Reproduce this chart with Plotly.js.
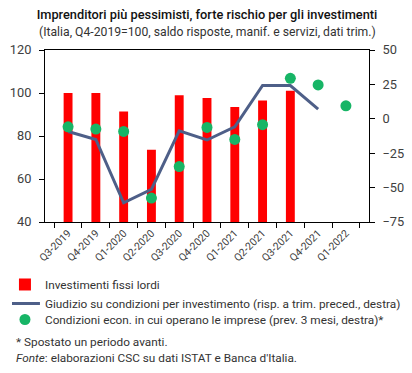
<!DOCTYPE html>
<html>
<head>
<meta charset="utf-8">
<script src="https://cdn.plot.ly/plotly-3.0.1.min.js"></script>
<style>html,body{margin:0;padding:0;background:#fff}#chart{width:412px;height:373px}</style>
</head>
<body>
<div id="chart"></div>
<script>
const categories = ["Q3-2019","Q4-2019","Q1-2020","Q2-2020","Q3-2020","Q4-2020","Q1-2021","Q2-2021","Q3-2021","Q4-2021","Q1-2022"];
const investimenti = [100, 100, 91.4, 73.6, 98.9, 97.7, 93.5, 96.5, 101, null, null];
const giudizio = [-9.2, -15, -61, -51.3, -8.7, -15.4, -5.8, 24.2, 24.2, 7, null];
const condizioni = [-5.8, -7.5, -9.2, -57.6, -34.7, -6.3, -15, -4.3, 29.4, 24.6, 9.4];

const FONT = "Roboto, 'Open Sans', sans-serif";
const legendBase = {xanchor:'left', yanchor:'top', orientation:'v', indentation:-7,
  font:{size:11.8, color:'#333'}, bgcolor:'rgba(0,0,0,0)', itemwidth:30};
const data = [
  {type:'bar', x:categories, y:investimenti, name:'Investimenti fissi lordi',
   marker:{color:'#FF0000'}, yaxis:'y', legend:'legend'},
  {type:'scatter', mode:'lines', x:categories, y:giudizio,
   name:'Giudizio su condizioni per investimento (risp. a trim. preced., destra)',
   line:{color:'#4E5F88', width:3}, yaxis:'y2', legend:'legend2'},
  {type:'scatter', mode:'markers', x:categories, y:condizioni,
   name:'Condizioni econ. in cui operano le imprese (prev. 3 mesi, destra)*',
   marker:{color:'#17B566', size:11}, yaxis:'y2', legend:'legend3'}
];
const layout = {
  width:412, height:373,
  margin:{l:45, r:43, t:50, b:151},
  paper_bgcolor:'#fff', plot_bgcolor:'#fff',
  font:{family:FONT, size:11, color:'#333'},
  showlegend:true,
  bargap:0.68,
  title:{text:'Imprenditori più pessimisti, forte rischio per gli investimenti',
    x:0.5, xanchor:'center', xref:'paper', yref:'container', y:1-15/373, yanchor:'middle',
    font:{family:FONT, size:12.8, color:'#111', weight:500}},
  xaxis:{type:'category', showline:true, linecolor:'#000', linewidth:1, mirror:true,
    ticks:'outside', tickson:'boundaries', ticklen:5, tickcolor:'#000',
    tickangle:-45, tickfont:{size:10.5, color:'#404040'}, showgrid:false, zeroline:false},
  yaxis:{range:[40,120], dtick:20, showline:true, linecolor:'#000', ticks:'outside', ticklen:5,
    tickcolor:'#000', showgrid:false, zeroline:false, ticklabelstandoff:5,
    tickfont:{size:12.8, color:'#404040'}},
  yaxis2:{range:[-75,50], dtick:25, overlaying:'y', side:'right', showline:true, linecolor:'#000',
    ticks:'outside', ticklen:5, tickcolor:'#000', showgrid:false, zeroline:false, ticklabelstandoff:5,
    tickfont:{size:12.8, color:'#404040'}},
  legend:Object.assign({}, legendBase, {x:-0.102, y:-0.279}),
  legend2:Object.assign({}, legendBase, {x:-0.102, y:-0.3895}),
  legend3:Object.assign({}, legendBase, {x:-0.102, y:-0.4826}),
  annotations:[
    {text:'(Italia, Q4-2019=100, saldo risposte, manif. e servizi, dati trim.)', xref:'paper', yref:'paper',
     x:0.5, xanchor:'center', y:(222-32)/172, yanchor:'middle', showarrow:false,
     font:{size:12.2, color:'#333'}},
    {text:'* Spostato un periodo avanti.', xref:'paper', yref:'paper', x:-0.0957, xanchor:'left',
     y:-(342-222)/172, yanchor:'middle', showarrow:false, font:{size:11.8, color:'#333'}},
    {text:'<i>Fonte</i>: elaborazioni CSC su dati ISTAT e Banca d\'Italia.', xref:'paper', yref:'paper', x:-0.0957, xanchor:'left',
     y:-(358-222)/172, yanchor:'middle', showarrow:false, font:{size:11.8, color:'#333'}}
  ]
};
Plotly.newPlot('chart', data, layout, {displayModeBar:false, staticPlot:true});
</script>
</body>
</html>
